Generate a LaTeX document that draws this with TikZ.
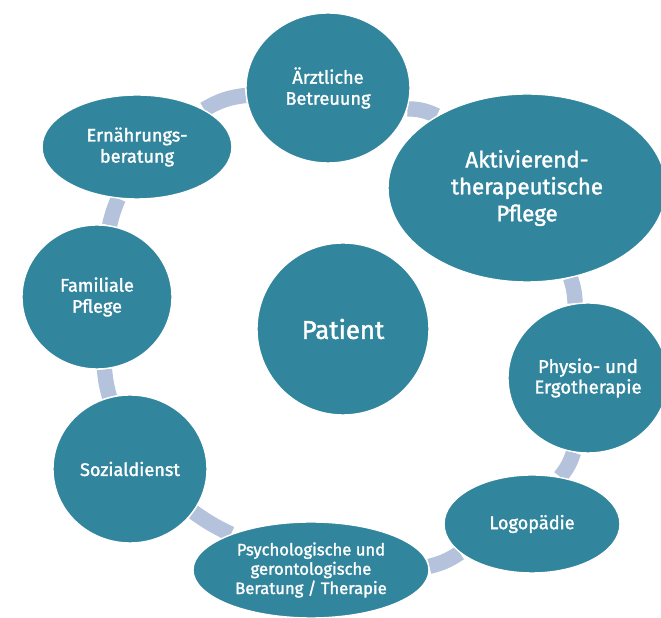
\documentclass[tikz,border=0pt]{standalone}
\usepackage{fontspec}
\setmainfont{Fira Sans}[FakeBold=1.6]
\usetikzlibrary{shapes.geometric,backgrounds}

\begin{document}
\begin{tikzpicture}[x=0.03cm, y=0.03cm,
    bubble/.style={ellipse, fill=bubbleColour, draw=white, line width=1.2pt,
        text=white, inner sep=0pt, align=center,
        font=\fontsize{15.5}{18}\selectfont},
    radii/.style 2 args={minimum width=2*#1*\px, minimum height=2*#2*\px},
    ring/.style={draw=ringColour, line width=0.46cm}]
    \def\px{0.03cm}

    \definecolor{bubbleColour}{HTML}{31859C}
    \definecolor{ringColour}{HTML}{B4C2DC}

    \useasboundingbox (0,0) rectangle (661,618);

    % Centre
    \node[bubble, radii={86}{86}, font=\fontsize{22}{26}\selectfont] (patient) at (343,289) {Patient};

    % Services round the patient
    \node[bubble, radii={82}{75}] (arzt) at (328,530) {Ärztliche\\Betreuung};
    \node[bubble, radii={139}{94}, font=\fontsize{19}{23}\selectfont] (aktiv) at (527,430) {Aktivierend-\\therapeutische\\Pflege};
    \node[bubble, radii={80}{75}, font=\fontsize{15.8}{17.5}\selectfont] (physio) at (588,240) {Physio- und\\Ergotherapie};
    \node[bubble, radii={88}{49}] (logo) at (532,94) {Logopädie};
    \node[bubble, radii={118}{48}, font=\fontsize{14.2}{16.5}\selectfont] (psych) at (311,48) {Psychologische und\\gerontologische\\Beratung / Therapie};
    \node[bubble, radii={77}{74}] (sozial) at (130,149) {Sozialdienst};
    \node[bubble, radii={75}{72}] (familie) at (97,321) {Familiale\\Pflege};
    \node[bubble, radii={95}{52}] (ernaehrung) at (137,471) {Ernährungs-\\beratung};

    % Outer ring
    \begin{scope}[on background layer]
        \foreach \a/\b/\bend in {arzt/aktiv/12, aktiv/physio/8, physio/logo/10,
                logo/psych/10, psych/sozial/5, sozial/familie/5,
                familie/ernaehrung/5, ernaehrung/arzt/12}
            \draw[ring] (\a) to[bend left=\bend] (\b);
    \end{scope}

\end{tikzpicture}
\end{document}
